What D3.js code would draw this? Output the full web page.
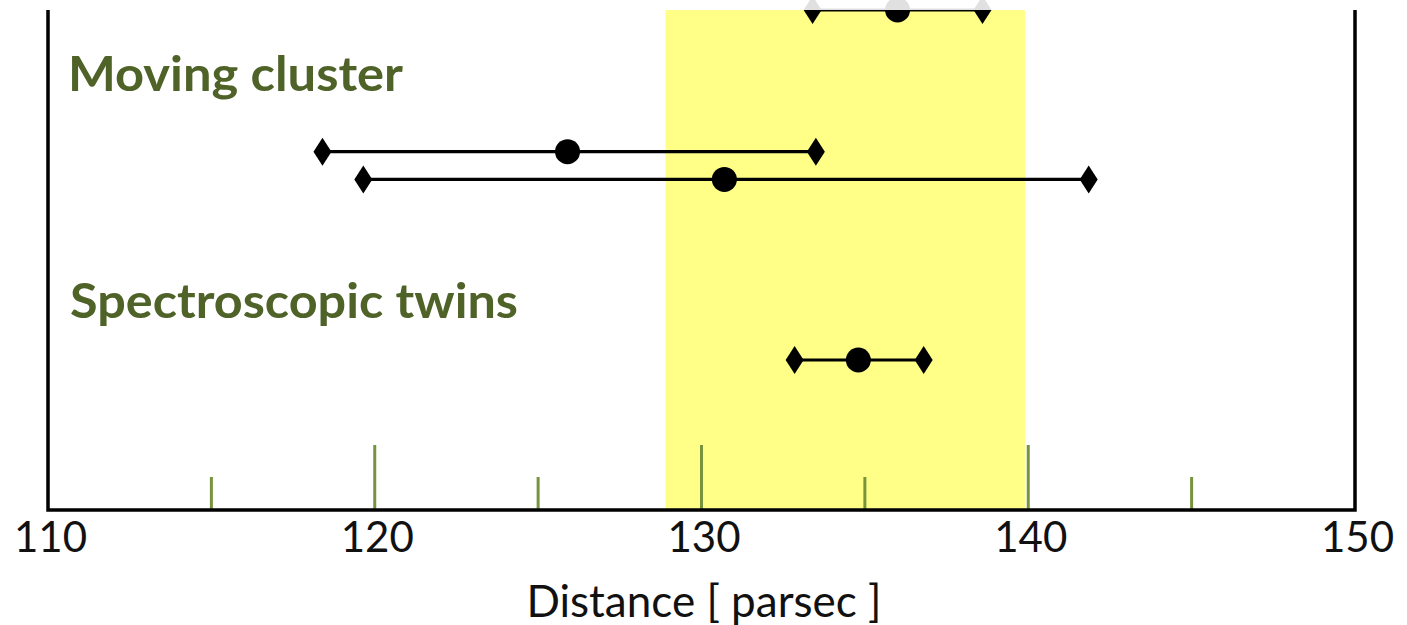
<!DOCTYPE html>
<html>
<head>
<meta charset="utf-8">
<script src="https://cdn.jsdelivr.net/npm/d3@7"></script>
<style>
  html, body { margin: 0; padding: 0; background: #fff; }
  svg { display: block; }
</style>
</head>
<body>
<div id="chart"></div>
<script>
// distance estimates (parsec): best value with lower / upper bound
var centers = [136.0, 125.9, 130.7, 134.8];
var lows    = [133.4, 118.4, 119.65, 132.85];
var highs   = [138.6, 133.5, 141.85, 136.8];
// vertical slot of each estimate (arbitrary units, higher = upper)
var rows    = [18, 12.9, 11.9, 5.4];

// highlighted interval
var bandLo = 128.9, bandHi = 139.9;

var labelTicks = [110, 120, 130, 140, 150];
var majorTicks = [120, 130, 140];
var minorTicks = [115, 125, 135, 145];

var groups = [
  {name: "Moving cluster", level: 15.1, len: 335, x: 68},
  {name: "Spectroscopic twins", level: 6.9, len: 448, x: 70}
];

var width = 1407, height = 625;
var margin = {left: 48, right: 52, top: 10, bottom: 115};

var svg = d3.select("#chart").append("svg")
    .attr("width", width)
    .attr("height", height);

var x = d3.scaleLinear()
    .domain([110, 150])
    .range([margin.left, width - margin.right]);

var y = d3.scaleLinear()
    .domain([0, 18])
    .range([height - margin.bottom, margin.top]);

var y0 = height - margin.bottom;

// yellow band
svg.append("rect")
    .attr("x", x(bandLo))
    .attr("y", margin.top)
    .attr("width", x(bandHi) - x(bandLo))
    .attr("height", y0 - margin.top)
    .style("fill", "#ffff88");

// green ticks rising from the baseline
svg.selectAll(".major")
    .data(majorTicks)
    .enter().append("line")
    .attr("x1", function(d) { return x(d); })
    .attr("x2", function(d) { return x(d); })
    .attr("y1", y0)
    .attr("y2", y0 - 65)
    .style("stroke", "#77933c")
    .style("stroke-width", 3);

svg.selectAll(".minor")
    .data(minorTicks)
    .enter().append("line")
    .attr("x1", function(d) { return x(d); })
    .attr("x2", function(d) { return x(d); })
    .attr("y1", y0)
    .attr("y2", y0 - 33)
    .style("stroke", "#77933c")
    .style("stroke-width", 3);

// frame: left, right, bottom
svg.append("path")
    .attr("d", "M" + x(110) + "," + margin.top + "V" + y0 + "H" + x(150) + "V" + margin.top)
    .style("fill", "none")
    .style("stroke", "#000")
    .style("stroke-width", 3.5);

// axis labels
var xAxis = svg.append("g")
    .attr("transform", "translate(0," + y0 + ")")
    .call(d3.axisBottom(x).tickValues(labelTicks).tickSize(0).tickPadding(12).tickFormat(d3.format("d")));
xAxis.select(".domain").remove();
xAxis.selectAll("text")
    .attr("dx", 2)
    .style("font-family", "Lato, 'Open Sans', sans-serif")
    .style("font-size", "42px")
    .style("fill", "#111");

svg.append("text")
    .attr("x", 704)
    .attr("y", 617)
    .attr("text-anchor", "middle")
    .style("font-family", "Lato, 'Open Sans', sans-serif")
    .style("font-size", "44px")
    .style("fill", "#111")
    .text("Distance [ parsec ]");

// group headings
svg.selectAll(".group")
    .data(groups)
    .enter().append("text")
    .attr("x", function(d) { return d.x; })
    .attr("y", function(d) { return y(d.level); })
    .attr("textLength", function(d) { return d.len; })
    .attr("lengthAdjust", "spacingAndGlyphs")
    .style("font-family", "Lato, 'Open Sans', sans-serif")
    .style("font-weight", "bold")
    .style("font-size", "47px")
    .style("fill", "#4f6228")
    .text(function(d) { return d.name; });

// error bars
var est = centers.map(function(c, i) {
  return {c: c, lo: lows[i], hi: highs[i], r: rows[i]};
});

var bars = svg.selectAll(".est")
    .data(est)
    .enter().append("g")
    .attr("transform", function(d) { return "translate(0," + y(d.r) + ")"; });

bars.append("line")
    .attr("x1", function(d) { return x(d.lo); })
    .attr("x2", function(d) { return x(d.hi); })
    .style("stroke", "#000")
    .style("stroke-width", 3.2);

var diamond = "M0,-14L9,0L0,14L-9,0Z";
bars.append("path")
    .attr("d", diamond)
    .attr("transform", function(d) { return "translate(" + x(d.lo) + ",0)"; });
bars.append("path")
    .attr("d", diamond)
    .attr("transform", function(d) { return "translate(" + x(d.hi) + ",0)"; });

bars.append("circle")
    .attr("cx", function(d) { return x(d.c); })
    .attr("r", 12.5)
    .style("fill", "#000");

// faded strip where the figure is cut off at the top
svg.append("rect")
    .attr("x", 0)
    .attr("y", 0)
    .attr("width", width)
    .attr("height", margin.top)
    .style("fill", "#fff")
    .style("opacity", 0.88);
</script>
</body>
</html>
